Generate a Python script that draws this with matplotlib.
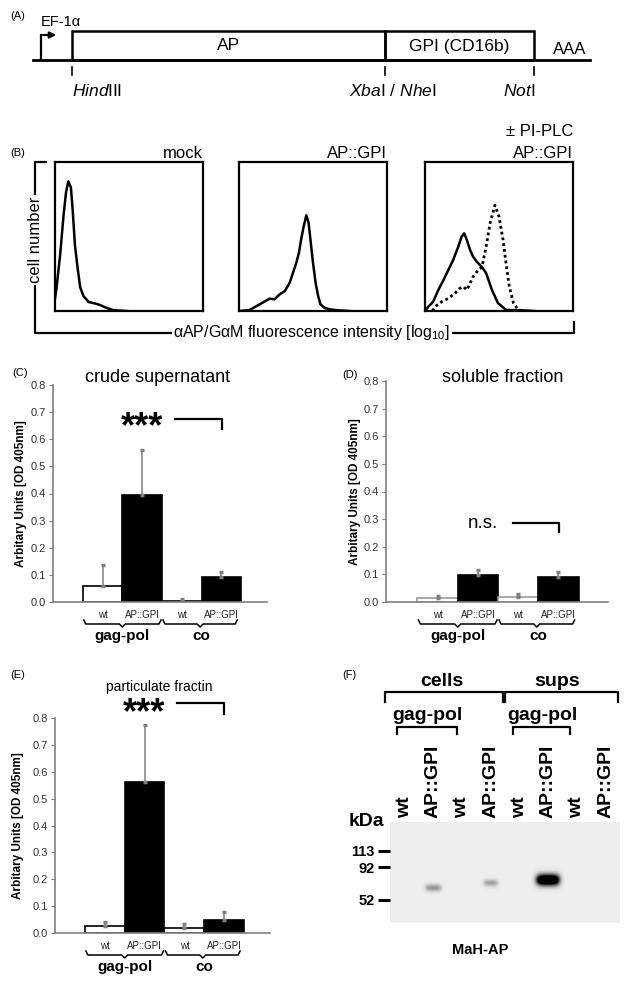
import numpy as np
import matplotlib
matplotlib.use("Agg")
from matplotlib import pyplot as plt
from matplotlib.patches import Rectangle

plt.rcParams['font.family'] = ['Liberation Sans', 'DejaVu Sans']
plt.rcParams['mathtext.fontset'] = 'custom'
plt.rcParams['mathtext.rm'] = 'Liberation Sans'
plt.rcParams['mathtext.it'] = 'Liberation Sans:italic'
plt.rcParams['mathtext.bf'] = 'Liberation Sans:bold'

W, H = 629, 985

# ---- (A) construct ----
construct_parts = ["AP", "GPI (CD16b)"]
sites = [r"$\mathit{Hind}$III", r"$\mathit{Xba}$I / $\mathit{Nhe}$I", r"$\mathit{Not}$I"]

# ---- (B) flow histograms: x in log10 decades, y in % of max count ----
mock_x = [0, .04, .14, .23, .30, .36, .43, .48, .54, .61, .68, .77, .91, 1.09, 1.22, 1.40, 1.59, 1.95]
mock_y = [8.5, 15, 38, 64, 80, 87, 83, 67, 44, 29, 16, 10, 6, 5, 4, 2, .5, 0]
gpi_x = [.02, .29, .56, .83, .96, 1.10, 1.24, 1.37, 1.46, 1.55, 1.62, 1.68, 1.75, 1.82, 1.88,
         1.93, 2.0, 2.07, 2.14, 2.2, 2.32, 2.48, 2.72, 3.0]
gpi_y = [0, .7, 4.5, 8.3, 7.8, 11.2, 13.4, 19, 25.7, 32.4, 39.1, 48.1, 57, 64.2, 59.3,
         48.1, 32.4, 19, 10, 4.5, 2, 1, .4, 0]
plc_x = [0, .09, .22, .36, .50, .63, .76, .90, .99, 1.06, 1.13, 1.22, 1.30, 1.40, 1.54, 1.65,
         1.81, 1.97, 2.19, 2.56, 2.96]
plc_y = [0, 2.9, 6.2, 14.1, 20.8, 27.5, 34.2, 43.2, 49.9, 52.1, 47.7, 40.9, 36.4, 33.1, 29.5,
         25.5, 14.1, 5.4, .7, .5, 0]
noplc_x = [.2, .27, .45, .63, .81, .94, 1.04, 1.13, 1.22, 1.30, 1.44, 1.54, 1.65, 1.76, 1.89,
           2.0, 2.11, 2.19, 2.28, 2.39, 2.52, 2.74]
noplc_y = [0, 2.9, 6.2, 8.5, 11.9, 15.2, 16.3, 14.1, 18.6, 23, 27.5, 29.5, 43, 59, 71, 63.3,
           47.7, 32, 16.3, 5.4, .7, 0]

# ---- (C)(D)(E) AP activity ----
bar_labels = ["wt", "AP::GPI", "wt", "AP::GPI"]
groups = ["gag-pol", "co"]
crude_mean = [0.060, 0.395, 0.005, 0.093]
crude_err = [0.075, 0.165, 0.005, 0.019]
soluble_mean = [0.013, 0.097, 0.018, 0.092]
soluble_err = [0.009, 0.020, 0.012, 0.018]
partic_mean = [0.026, 0.562, 0.020, 0.050]
partic_err = [0.014, 0.213, 0.015, 0.028]

# ---- (F) western blot (migration as fraction of gel height) ----
lanes = ["wt", "AP::GPI", "wt", "AP::GPI", "wt", "AP::GPI", "wt", "AP::GPI"]
markers_kda = [113, 92, 52]
markers_rf = [0.287, 0.446, 0.772]
band_lane = [1, 3, 5]
band_rf = [0.653, 0.604, 0.574]
band_int = [0.35, 0.30, 1.6]
band_size = [0.28, 0.25, 0.40]

fig = plt.figure(figsize=(W / 100, H / 100), dpi=100)
cv = fig.add_axes([0, 0, 1, 1])
cv.set_xlim(0, W)
cv.set_ylim(H, 0)
cv.axis('off')


def px_axes(x0, y0, x1, y1):
    return fig.add_axes([x0 / W, 1 - y1 / H, (x1 - x0) / W, (y1 - y0) / H])


# ================= panel A =================
cv.text(10, 16, "(A)", fontsize=8, va='center')
cv.text(41, 22, "EF-1α", fontsize=10.5, va='center')
cv.plot([41, 41], [60, 35], 'k', lw=1.6)
cv.annotate('', xy=(59, 35), xytext=(40.3, 35),
            arrowprops=dict(arrowstyle='-|>', lw=1.6, color='k', mutation_scale=9))
cv.plot([33, 590], [60, 60], 'k', lw=2)
edges = [72, 385, 534]
for i, lab in enumerate(construct_parts):
    cv.add_patch(Rectangle((edges[i], 31), edges[i + 1] - edges[i], 29, fill=False, lw=1.8, ec='k'))
    cv.text((edges[i] + edges[i + 1]) / 2, 46, lab, fontsize=12.5, ha='center', va='center')
cv.text(570, 49, "AAA", fontsize=12, ha='center', va='center')
for x in edges:
    cv.plot([x, x], [67, 75], 'k', lw=1.2)
cv.text(72, 91, sites[0], fontsize=12.5, ha='left', va='center')
cv.text(437, 91, sites[1], fontsize=12.5, ha='right', va='center')
cv.text(535, 91, sites[2], fontsize=12.5, ha='right', va='center')

# ================= panel B =================
cv.text(10, 153, "(B)", fontsize=8, va='center')
boxes = [(55, 203), (239, 387), (425, 573)]
hist_axes = []
for x0, x1 in boxes:
    ax = px_axes(x0, 162, x1, 311)
    ax.set_xlim(0, 4)
    ax.set_ylim(0, 100)
    ax.set_xticks([])
    ax.set_yticks([])
    for s in ax.spines.values():
        s.set_linewidth(1.6)
    hist_axes.append(ax)
hist_axes[0].plot(mock_x, mock_y, 'k', lw=1.8)
hist_axes[1].plot(gpi_x, gpi_y, 'k', lw=1.8)
hist_axes[2].plot(plc_x, plc_y, 'k', lw=1.8)
hist_axes[2].plot(noplc_x, noplc_y, 'k', lw=2, ls=(0, (1, 1.1)))
cv.text(203, 153, "mock", fontsize=12, ha='right', va='center')
cv.text(387, 153, "AP::GPI", fontsize=12, ha='right', va='center')
cv.text(573, 131, "± PI-PLC", fontsize=12, ha='right', va='center')
cv.text(573, 153, "AP::GPI", fontsize=12, ha='right', va='center')
cv.plot([46, 35, 35, 574, 574], [162, 162, 333, 333, 322], 'k', lw=1.6)
cv.text(36, 240, "cell number", fontsize=12, rotation=90, ha='center', va='center',
        bbox=dict(fc='white', ec='none', pad=1))
cv.text(312, 333, r"αAP/GαM fluorescence intensity [log$_{10}$]", fontsize=11.5,
        ha='center', va='center', bbox=dict(fc='white', ec='none', pad=1))


# ================= panels C, D, E =================
def brace(x0, x1, y):
    xm = (x0 + x1) / 2
    cv.plot([x0, x0 + 2, xm - 3, xm, xm + 3, x1 - 2, x1],
            [y - 4, y, y, y + 3, y, y, y - 4], 'k', lw=1.1)


def bar_panel(box, means, errs, wt_edge, tag, tag_xy, title, title_xy, ylab_x, xl):
    x0, y0, x1, y1 = box
    ax = px_axes(x0, y0, x1, y1)
    pos = np.arange(4)
    colors = ['white', 'black', 'white', 'black']
    edgec = [wt_edge, 'black', wt_edge, 'black']
    ax.bar(pos, means, width=1.0, color=colors, edgecolor=edgec, lw=1.2, zorder=2)
    ax.errorbar(pos, means, yerr=[np.zeros(4), errs], fmt='none', ecolor='#808080',
                elinewidth=1.1, capsize=1.5, capthick=2.5, zorder=3)
    ax.set_ylim(0, 0.8)
    ax.set_xlim(xl)
    ax.set_yticks(np.arange(0, 0.81, 0.1))
    ax.set_yticklabels([f"{v:.1f}" for v in np.arange(0, 0.81, 0.1)])
    ax.set_xticks(pos)
    ax.set_xticklabels(bar_labels)
    ax.tick_params(axis='y', labelsize=8, colors='#808080', labelcolor='#333333', length=3, pad=2)
    ax.tick_params(axis='x', labelsize=7, length=0, pad=6, labelcolor='#222222')
    for s in ['top', 'right']:
        ax.spines[s].set_visible(False)
    for s in ['left', 'bottom']:
        ax.spines[s].set_color('#808080')
        ax.spines[s].set_linewidth(1.2)
    ax.patch.set_alpha(0)
    cv.text(tag_xy[0], tag_xy[1], tag, fontsize=8, va='center')
    cv.text(title_xy[0], title_xy[1], title[0], fontsize=title[1], ha='center', va='center')
    cv.text(ylab_x, (y0 + y1) / 2, "Arbitary Units [OD 405nm]", fontsize=8.5, fontweight='bold',
            rotation=90, ha='center', va='center')
    # group braces
    bw = (x1 - x0) / (xl[1] - xl[0])
    lft = x0 + (-0.5 - xl[0]) * bw
    mid = lft + 2 * bw
    rgt = lft + 4 * bw
    brace(lft + 1, mid - 1, y1 + 22)
    brace(mid + 1, rgt - 4, y1 + 22)
    cv.text((lft + mid) / 2, y1 + 34, groups[0], fontsize=11, fontweight='bold',
            ha='center', va='center')
    cv.text((mid + rgt) / 2, y1 + 34, groups[1], fontsize=11, fontweight='bold',
            ha='center', va='center')
    return ax


bar_panel((53, 385, 267, 602), crude_mean, crude_err, 'black', "(C)", (12, 373),
          ("crude supernatant", 13), (158, 377), 21, (-1.25, 4.15))
bar_panel((386, 381, 608, 602), soluble_mean, soluble_err, '#999999', "(D)", (342, 375),
          ("soluble fraction", 13), (503, 377), 355, (-1.28, 4.23))
bar_panel((55, 718, 270, 933), partic_mean, partic_err, 'black', "(E)", (10, 675),
          ("particulate fractin", 10), (159, 687), 18, (-1.25, 4.15))

# significance marks
cv.text(142, 437, "***", fontsize=26, fontweight='bold', ha='center', va='baseline')
cv.plot([175, 222, 222], [419, 419, 429], 'k', lw=1.6)
cv.text(483, 523, "n.s.", fontsize=13.5, ha='center', va='center')
cv.plot([513, 559, 559], [523, 523, 532], 'k', lw=1.6)
cv.text(144, 723, "***", fontsize=26, fontweight='bold', ha='center', va='baseline')
cv.plot([177, 224, 224], [703, 703, 714], 'k', lw=1.6)

# ================= panel F =================
cv.text(342, 675, "(F)", fontsize=8, va='center')
cv.text(442, 682, "cells", fontsize=14, fontweight='bold', ha='center', va='center')
cv.text(557, 682, "sups", fontsize=14, fontweight='bold', ha='center', va='center')
cv.plot([385, 385, 503, 503], [702, 692, 692, 702], 'k', lw=1.6)
cv.plot([505, 505, 618, 618], [702, 692, 692, 702], 'k', lw=1.6)
cv.text(427, 715, "gag-pol", fontsize=14, fontweight='bold', ha='center', va='center')
cv.text(542, 715, "gag-pol", fontsize=14, fontweight='bold', ha='center', va='center')
cv.plot([397, 397, 457, 457], [734, 727, 727, 734], 'k', lw=1.6)
cv.plot([513, 513, 570, 570], [734, 727, 727, 734], 'k', lw=1.6)

bx0, bx1, by0, by1 = 390, 620, 822, 923
blot = px_axes(bx0, by0, bx1, by1)
gx = np.linspace(0, 8, 230)
gy = np.linspace(0, 1, 101)
XX, YY = np.meshgrid(gx, gy)
img = np.full(XX.shape, 0.07)
for ln, rf, it, sz in zip(band_lane, band_rf, band_int, band_size):
    img += it * np.exp(-((XX - (ln + 0.5)) / sz) ** 4 - ((YY - rf) / (0.03 + 0.015 * it)) ** 2)
blot.imshow(np.clip(img, 0, 1), cmap='gray_r', vmin=0, vmax=1, aspect='auto',
            extent=(0, 8, 1, 0), interpolation='bilinear')
blot.set_xlim(0, 8)
blot.set_ylim(1, 0)
blot.set_xticks([])
blot.set_yticks(markers_rf)
blot.set_yticklabels([str(m) for m in markers_kda])
blot.tick_params(axis='y', length=9, width=2.2, pad=2, labelsize=10.5, direction='out')
for lab in blot.get_yticklabels():
    lab.set_fontweight('bold')
for s in blot.spines.values():
    s.set_visible(False)
for i, lab in enumerate(lanes):
    cv.text(bx0 + (bx1 - bx0) / 8 * (i + 0.5), 818, lab, fontsize=14, fontweight='bold',
            rotation=90, ha='center', va='bottom')
cv.text(366, 822, "kDa", fontsize=14, fontweight='bold', ha='center', va='center')
cv.text(480, 950, "MaH-AP", fontsize=10.5, fontweight='bold', ha='center', va='center')

fig.savefig("out.png", dpi=100)
